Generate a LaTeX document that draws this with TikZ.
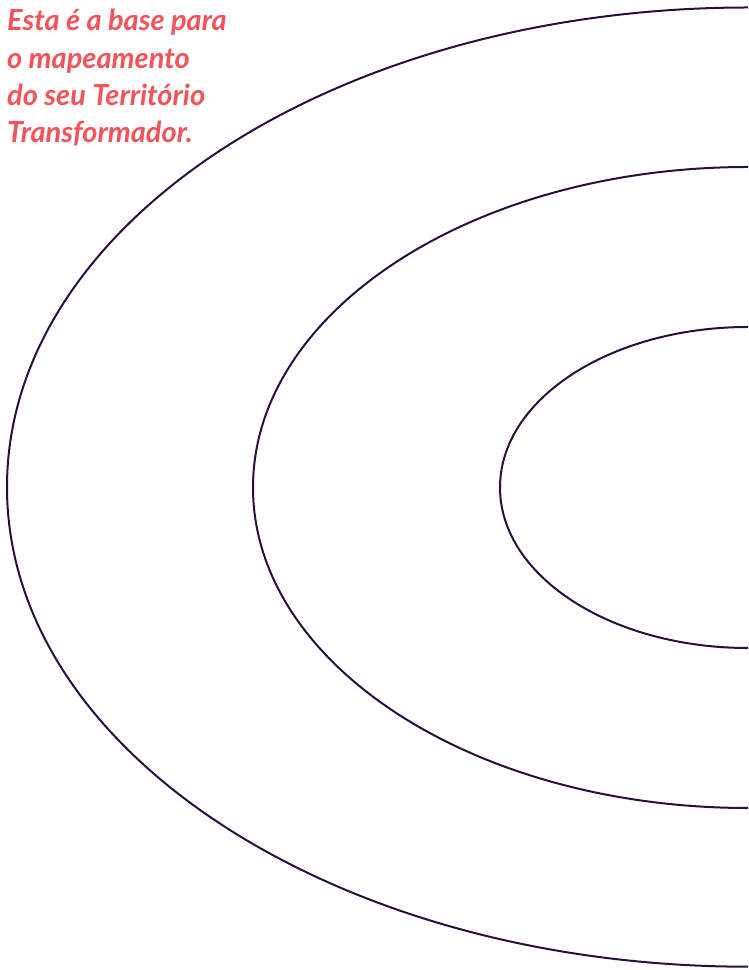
\documentclass[tikz,border=0pt]{standalone}
\usepackage{fontspec}
\setmainfont{Lato}
\definecolor{coral}{HTML}{F5535A}
\definecolor{ink}{HTML}{2B0E3E}
\begin{document}
\begin{tikzpicture}[x=1pt,y=1pt,
  ring/.style={draw=ink,line width=2pt},
  caption/.style={text=coral,font=\fontsize{29}{37.3}\selectfont\bfseries\itshape,align=left,inner sep=0pt,anchor=north west}]
\useasboundingbox (0,0) rectangle (748,970);
\draw[ring] (748,962.5) arc[start angle=90,end angle=270,x radius=741,y radius=479.6];
\draw[ring] (748,803) arc[start angle=90,end angle=270,x radius=495,y radius=320.5];
\draw[ring] (748,643) arc[start angle=90,end angle=270,x radius=248,y radius=160.5];
\node[caption] (title) at (7,961) {Esta é a base para\\o mapeamento\\do seu Território\\Transformador.};
\end{tikzpicture}
\end{document}
